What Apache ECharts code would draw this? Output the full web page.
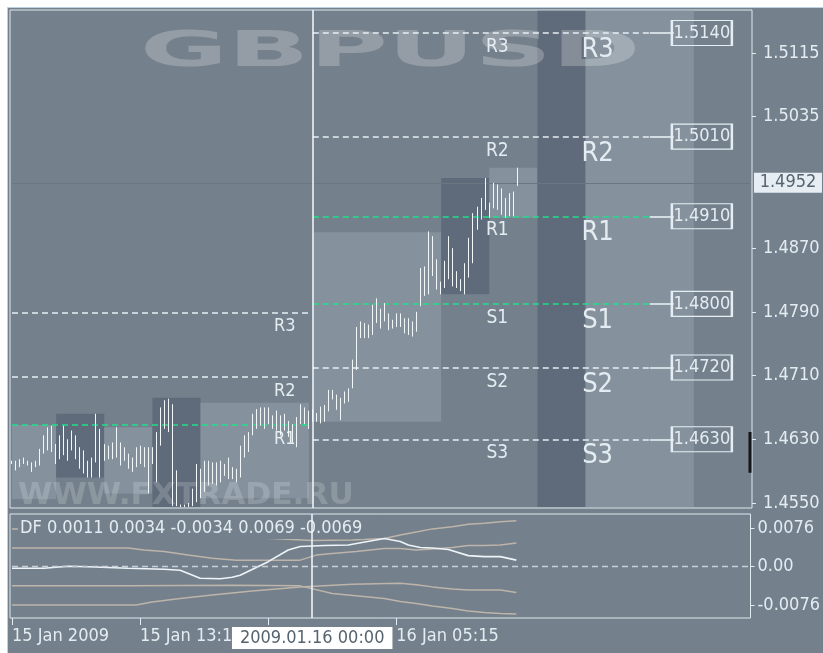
<!DOCTYPE html>
<html>
<head>
<meta charset="utf-8">
<script src="https://cdn.jsdelivr.net/npm/echarts@6.0.0/dist/echarts.min.js"></script>
<style>
html,body{margin:0;padding:0;background:#ffffff;}
#chart{width:823px;height:653px;}
</style>
</head>
<body>
<div id="chart"></div>
<script>
// ================= DATA =================
// 15-minute bars, GBPUSD, 15 Jan 2009 05:15 -> 16 Jan 2009 12:45 (high / low)
const barHighs = [
1.4603,1.4603,1.4605,1.4607,1.4603,1.4601,1.4603,1.4618,1.4635,1.4645,1.4647,1.4624,1.4635,1.4647,1.4630,1.4641,1.4635,1.4620,1.4616,1.4603,1.4607,1.4662,1.4643,1.4624,1.4622,
1.4626,1.4645,1.4626,1.4620,1.4612,1.4607,1.4620,1.4622,1.4620,1.4620,1.4620,1.4639,1.4670,1.4679,1.4681,1.4674,1.4591,1.4548,1.4548,1.4550,1.4568,1.4599,1.4593,1.4603,
1.4603,1.4601,1.4601,1.4603,1.4599,1.4607,1.4595,1.4593,1.4622,1.4635,1.4639,1.4662,1.4668,1.4670,1.4670,1.4670,1.4660,1.4666,1.4660,1.4662,1.4653,1.4649,1.4658,1.4674,1.4670,1.4666,
1.4668,1.4663,1.4671,1.4673,1.4692,1.4692,1.4686,1.4682,1.4690,1.4694,1.4730,1.4771,1.4778,1.4776,1.4774,1.4799,1.4807,1.4794,1.4801,1.4788,1.4780,1.4788,1.4788,1.4782,1.4782,1.4778,1.4790,
1.4845,1.4847,1.4891,1.4885,1.4856,1.4828,1.4854,1.4885,1.4870,1.4841,1.4831,1.4851,1.4883,1.4914,1.4922,1.4933,1.4958,1.4927,1.4952,1.4950,1.4945,1.4933,1.4939,1.4941,1.4971];
const barLows = [
1.4599,1.4591,1.4595,1.4599,1.4597,1.4589,1.4595,1.4597,1.4612,1.4616,1.4614,1.4599,1.4605,1.4610,1.4603,1.4616,1.4605,1.4593,1.4587,1.4582,1.4582,1.4601,1.4582,1.4603,1.4605,
1.4605,1.4607,1.4597,1.4603,1.4593,1.4589,1.4595,1.4599,1.4595,1.4562,1.4599,1.4576,1.4622,1.4643,1.4639,1.4546,1.4546,1.4545,1.4545,1.4545,1.4546,1.4551,1.4556,1.4564,
1.4572,1.4574,1.4572,1.4576,1.4584,1.4580,1.4580,1.4576,1.4582,1.4607,1.4614,1.4635,1.4643,1.4647,1.4643,1.4649,1.4643,1.4641,1.4635,1.4641,1.4633,1.4626,1.4620,1.4649,1.4649,1.4643,
1.4652,1.4652,1.4650,1.4652,1.4665,1.4680,1.4667,1.4654,1.4675,1.4677,1.4694,1.4717,1.4757,1.4757,1.4757,1.4761,1.4776,1.4769,1.4778,1.4767,1.4769,1.4771,1.4771,1.4763,1.4761,1.4759,1.4765,
1.4797,1.4810,1.4812,1.4835,1.4818,1.4812,1.4820,1.4831,1.4822,1.4820,1.4816,1.4812,1.4833,1.4851,1.4893,1.4906,1.4918,1.4908,1.4920,1.4918,1.4912,1.4908,1.4910,1.4910,1.4948];

const timeTickIndex  = [0, 32, 64, 96];
const timeTickLabels = ['15 Jan 2009', '15 Jan 13:15', '15 Jan 21:15', '16 Jan 05:15'];
const priceTicks = [1.4550, 1.4630, 1.4710, 1.4790, 1.4870, 1.5035, 1.5115];
const indTicks = [0.0076, 0, -0.0076];
const bidPrice = 1.4952;

const prevLevelNames  = ['R3', 'R2', 'R1'];
const prevLevelValues = [1.4789, 1.4708, 1.4648];
const dayLevelNames   = ['R3', 'R2', 'R1', 'S1', 'S2', 'S3'];
const dayLevelValues  = [1.5140, 1.5010, 1.4910, 1.4800, 1.4720, 1.4630];

// session boxes (bar index from / to, high / low, shade)
const sessFrom = [0, 11, 23, 35, 47, 75, 107, 119, 131, 143];
const sessTo   = [11, 23, 35, 47, 74, 107, 119, 131, 143, 170];
const sessHigh = [1.4648, 1.4662, 1.4645, 1.4682, 1.4676, 1.4890, 1.4958, 1.4971, 1.5168, 1.5168];
const sessLow  = [1.4555, 1.4582, 1.4562, 1.4545, 1.4556, 1.4652, 1.4812, 1.4908, 1.4545, 1.4545];
const sessKind = ['light','dark','light','dark','light','light','dark','light','dark','light'];

// DF indicator (bar index, value)
const dfMain = [[0,-0.0003],[8,-0.0003],[14,0.0001],[19,0.0000],[29,-0.0003],[38,-0.0005],[42,-0.0007],[47,-0.0023],[52,-0.0024],[55,-0.0021],[57,-0.0017],[64,0.0010],[69,0.0033],[72,0.0040],[78,0.0042],[84,0.0043],[93,0.0056],[97,0.0050],[99,0.0043],[102,0.0038],[105,0.0037],[109,0.0034],[114,0.0022],[118,0.0020],[122,0.0020],[126,0.0013]];
const dfBandA = [[0,0.0075],[30,0.0075],[45,0.0066],[60,0.0058],[75,0.0052],[85,0.0053],[93,0.0056],[97,0.0063],[101,0.0069],[105,0.0075],[110,0.0079],[114,0.0084],[118,0.0086],[122,0.0089],[126,0.0091]];
const dfBandB = [[0,0.0037],[29,0.0037],[33,0.0033],[38,0.0030],[44,0.0023],[50,0.0017],[56,0.0013],[72,0.0013],[76,0.0023],[80,0.0026],[86,0.0030],[93,0.0036],[97,0.0036],[101,0.0033],[105,0.0035],[110,0.0038],[114,0.0042],[118,0.0042],[122,0.0043],[126,0.0047]];
const dfBandC = [[0,-0.0038],[30,-0.0038],[55,-0.0037],[72,-0.0038],[80,-0.0053],[93,-0.0063],[97,-0.0069],[101,-0.0073],[105,-0.0078],[110,-0.0083],[114,-0.0088],[118,-0.0091],[122,-0.0093],[126,-0.0094]];
const dfBandD = [[0,-0.0076],[31,-0.0076],[35,-0.0070],[42,-0.0063],[50,-0.0056],[60,-0.0048],[72,-0.0040],[85,-0.0035],[97,-0.0033],[101,-0.0036],[105,-0.0040],[110,-0.0044],[114,-0.0046],[122,-0.0046],[126,-0.0051]];
const dfLegend = 'DF 0.0011 0.0034 -0.0034 0.0069 -0.0069';

const crossIndex = 75;
const crossLabel = '2009.01.16 00:00';
const markerRange = [1.4639, 1.4588];

// ================= LAYOUT / STYLE =================
const SLOTS = 185;
const PRICE_MIN = 1.45437, PRICE_MAX = 1.51690;
const IND_MIN = -0.01017, IND_MAX = 0.01045;
const BASE = '#74808c', LIGHT = '#85929e', DARK = '#5f6b7a';
const TXT = '#e4ecf2';
const WHITE_LINE = '#e6eef4', GREEN = '#1fe08c';
const FONT = '"DejaVu Sans Condensed", "Liberation Sans", sans-serif';

const MONTHS = ['Jan','Feb','Mar','Apr','May','Jun','Jul','Aug','Sep','Oct','Nov','Dec'];
const pad = n => (n < 10 ? '0' : '') + n;
const t0 = Date.UTC(2009, 0, 15, 5, 15);
const categories = [];
for (let i = 0; i < SLOTS; i++) {
  const d = new Date(t0 + i * 900000);
  categories.push(d.getUTCDate() + ' ' + MONTHS[d.getUTCMonth()] + ' ' + pad(d.getUTCHours()) + ':' + pad(d.getUTCMinutes()));
}

const candleData = barHighs.map((h, i) => [barLows[i], h, barLows[i], h]);

const sessionAreas = sessFrom.map((s, k) => [
  { coord: [s, sessHigh[k]], itemStyle: { color: sessKind[k] === 'dark' ? DARK : LIGHT } },
  { coord: [sessTo[k], sessLow[k]] }
]);

const levelLines = [];
const levelPoints = [];
prevLevelValues.forEach((v, k) => {
  const col = prevLevelNames[k] === 'R1' || prevLevelNames[k] === 'S1' ? GREEN : WHITE_LINE;
  levelLines.push([{ coord: [0, v], lineStyle: { color: col, type: [6, 4], width: 1.6 } }, { coord: [74, v] }]);
  levelPoints.push({ coord: [68, v], symbol: 'rect', symbolSize: [1, 1], itemStyle: { color: 'rgba(0,0,0,0)' },
    label: { show: true, position: 'inside', offset: [0, 14], formatter: prevLevelNames[k], color: TXT, fontSize: 18, fontFamily: FONT } });
});
dayLevelValues.forEach((v, k) => {
  const col = dayLevelNames[k] === 'R1' || dayLevelNames[k] === 'S1' ? GREEN : WHITE_LINE;
  levelLines.push([{ coord: [75, v], lineStyle: { color: col, type: [6, 4], width: 1.6 } }, { coord: [159, v] }]);
  levelLines.push([{ coord: [159, v], lineStyle: { color: WHITE_LINE, type: 'solid', width: 1.6 } }, { coord: [165, v] }]);
  levelPoints.push({ coord: [121, v], symbol: 'rect', symbolSize: [1, 1], itemStyle: { color: 'rgba(0,0,0,0)' },
    label: { show: true, position: 'inside', offset: [0, 14], formatter: dayLevelNames[k], color: TXT, fontSize: 19, fontFamily: FONT } });
  levelPoints.push({ coord: [146, v], symbol: 'rect', symbolSize: [1, 1], itemStyle: { color: 'rgba(0,0,0,0)' },
    label: { show: true, position: 'inside', offset: [0, 17], formatter: dayLevelNames[k], color: TXT, fontSize: 27, fontFamily: FONT } });
  levelPoints.push({ coord: [172, v], symbol: 'rect', symbolSize: [60, 25],
    itemStyle: { color: 'rgba(0,0,0,0)', borderColor: WHITE_LINE, borderWidth: 1.6 },
    label: { show: true, position: 'inside', formatter: v.toFixed(4), color: TXT, fontSize: 18, fontFamily: FONT } });
});

const bandStyle = { color: '#bdb4aa', width: 1.5 };

const option = {
  animation: false,
  backgroundColor: '#ffffff',
  title: { text: dfLegend, left: 18, top: 517, padding: [0, 2], backgroundColor: BASE, z: 3.5,
    textStyle: { color: TXT, fontSize: 18, fontWeight: 'normal', fontFamily: FONT, lineHeight: 22 } },
  graphic: [
    { type: 'rect', z: -10, silent: true, shape: { x: 7.5, y: 7.5, width: 830, height: 660 }, style: { fill: BASE, stroke: '#bcd2e0', lineWidth: 1 } },
    { type: 'text', z: 2, silent: true, x: 140, y: 28, scaleX: 2.14, style: { text: 'GBPUSD', font: 'bold 50px "DejaVu Sans"', fill: 'rgba(255,255,255,0.23)', verticalAlign: 'top' } },
    { type: 'text', z: 2, silent: true, x: 18, y: 481, scaleX: 1.04, style: { text: 'WWW.FXTRADE.RU', font: 'bold 30px "DejaVu Sans"', fill: 'rgba(255,255,255,0.18)', verticalAlign: 'top' } }
  ],
  grid: [
    { left: 10, top: 10, width: 742, height: 498, show: true, borderColor: '#dfe8ee', borderWidth: 1, backgroundColor: 'transparent' },
    { left: 10, top: 514, width: 742, height: 104, show: true, borderColor: '#dfe8ee', borderWidth: 1, backgroundColor: 'transparent' }
  ],
  xAxis: [
    { type: 'category', gridIndex: 0, data: categories, boundaryGap: true,
      axisLine: { show: false, onZero: false }, axisTick: { show: false }, axisLabel: { show: false }, splitLine: { show: false } },
    { type: 'category', gridIndex: 1, data: categories, boundaryGap: true, position: 'bottom',
      axisLine: { show: false, onZero: false },
      axisTick: { show: true, alignWithLabel: true, length: 7, lineStyle: { color: '#e6eef4' }, interval: (i) => timeTickIndex.indexOf(i) >= 0 },
      axisLabel: { show: true, align: 'left', margin: 9, color: TXT, fontSize: 18, fontFamily: FONT,
        interval: (i) => timeTickIndex.indexOf(i) >= 0,
        formatter: (val, i) => { const k = timeTickIndex.indexOf(i); return k >= 0 ? timeTickLabels[k] : ''; } },
      splitLine: { show: false } }
  ],
  yAxis: [
    { type: 'value', gridIndex: 0, position: 'right', min: PRICE_MIN, max: PRICE_MAX, scale: true,
      axisLine: { show: false },
      axisTick: { show: true, length: 4, lineStyle: { color: '#e6eef4' }, customValues: priceTicks },
      axisLabel: { show: true, margin: 11, color: TXT, fontSize: 18, fontFamily: FONT, customValues: priceTicks, formatter: v => v.toFixed(4) },
      splitLine: { show: false } },
    { type: 'value', gridIndex: 1, position: 'right', min: IND_MIN, max: IND_MAX,
      axisLine: { show: false },
      axisTick: { show: true, length: 4, lineStyle: { color: '#e6eef4' }, customValues: indTicks },
      axisLabel: { show: true, margin: 7, color: TXT, fontSize: 18, fontFamily: FONT, customValues: indTicks, formatter: v => (v === 0 ? '0.00' : v.toFixed(4)) },
      splitLine: { show: false } }
  ],
  series: [
    { name: 'sessions', type: 'line', xAxisIndex: 0, yAxisIndex: 0, data: [], z: 1, silent: true,
      markArea: { silent: true, data: sessionAreas } },
    { name: 'levels', type: 'line', xAxisIndex: 0, yAxisIndex: 0, data: [], z: 3, silent: true,
      markLine: { silent: true, symbol: ['none', 'none'], label: { show: false }, data: levelLines.concat([
        [{ coord: [0, bidPrice], lineStyle: { color: '#6a7783', type: 'solid', width: 1 } }, { coord: [184, bidPrice] }],
        [{ coord: [crossIndex, PRICE_MIN], lineStyle: { color: '#f4f8fb', type: 'solid', width: 1.5 } }, { coord: [crossIndex, PRICE_MAX] }]
      ]) },
      markPoint: { silent: true, data: levelPoints.concat([
        { coord: [184, bidPrice], symbol: 'rect', symbolSize: [68, 20], symbolOffset: [38, 0], itemStyle: { color: '#e6eef4' },
          label: { show: true, position: 'inside', formatter: bidPrice.toFixed(4), color: '#56646f', fontSize: 18, fontFamily: FONT } }
      ]) } },
    { name: 'bars', type: 'candlestick', xAxisIndex: 0, yAxisIndex: 0, data: candleData, z: 5, barWidth: 1,
      itemStyle: { color: '#f2f7fa', color0: '#f2f7fa', borderColor: '#f2f7fa', borderColor0: '#f2f7fa', borderWidth: 1 } },
    { name: 'marker', type: 'line', xAxisIndex: 0, yAxisIndex: 0, z: 6, symbol: 'none',
      data: [[184, markerRange[0]], [184, markerRange[1]]], lineStyle: { color: '#151515', width: 3 } },
    { name: 'bandA', type: 'line', xAxisIndex: 1, yAxisIndex: 1, data: dfBandA, symbol: 'none', lineStyle: bandStyle, z: 3 },
    { name: 'bandB', type: 'line', xAxisIndex: 1, yAxisIndex: 1, data: dfBandB, symbol: 'none', lineStyle: bandStyle, z: 3 },
    { name: 'bandC', type: 'line', xAxisIndex: 1, yAxisIndex: 1, data: dfBandC, symbol: 'none', lineStyle: bandStyle, z: 3 },
    { name: 'bandD', type: 'line', xAxisIndex: 1, yAxisIndex: 1, data: dfBandD, symbol: 'none', lineStyle: bandStyle, z: 3 },
    { name: 'DF', type: 'line', xAxisIndex: 1, yAxisIndex: 1, data: dfMain, symbol: 'none', lineStyle: { color: '#eef4f8', width: 1.6 }, z: 4,
      markLine: { silent: true, symbol: ['none', 'none'], label: { show: false }, data: [
        [{ coord: [0, 0], lineStyle: { color: '#c6d0d8', type: [6, 4], width: 1.4 } }, { coord: [184, 0] }],
        [{ coord: [crossIndex, IND_MIN], lineStyle: { color: '#f4f8fb', type: 'solid', width: 1.5 },
           label: { show: true, position: 'start', distance: 9, formatter: crossLabel, color: '#56646f', backgroundColor: '#ffffff', padding: [2, 8], fontSize: 18, fontFamily: FONT } },
         { coord: [crossIndex, IND_MAX] }]
      ] } }
  ]
};

const chart = echarts.init(document.getElementById('chart'), null, { renderer: 'canvas' });
chart.setOption(option);
</script>
</body>
</html>
